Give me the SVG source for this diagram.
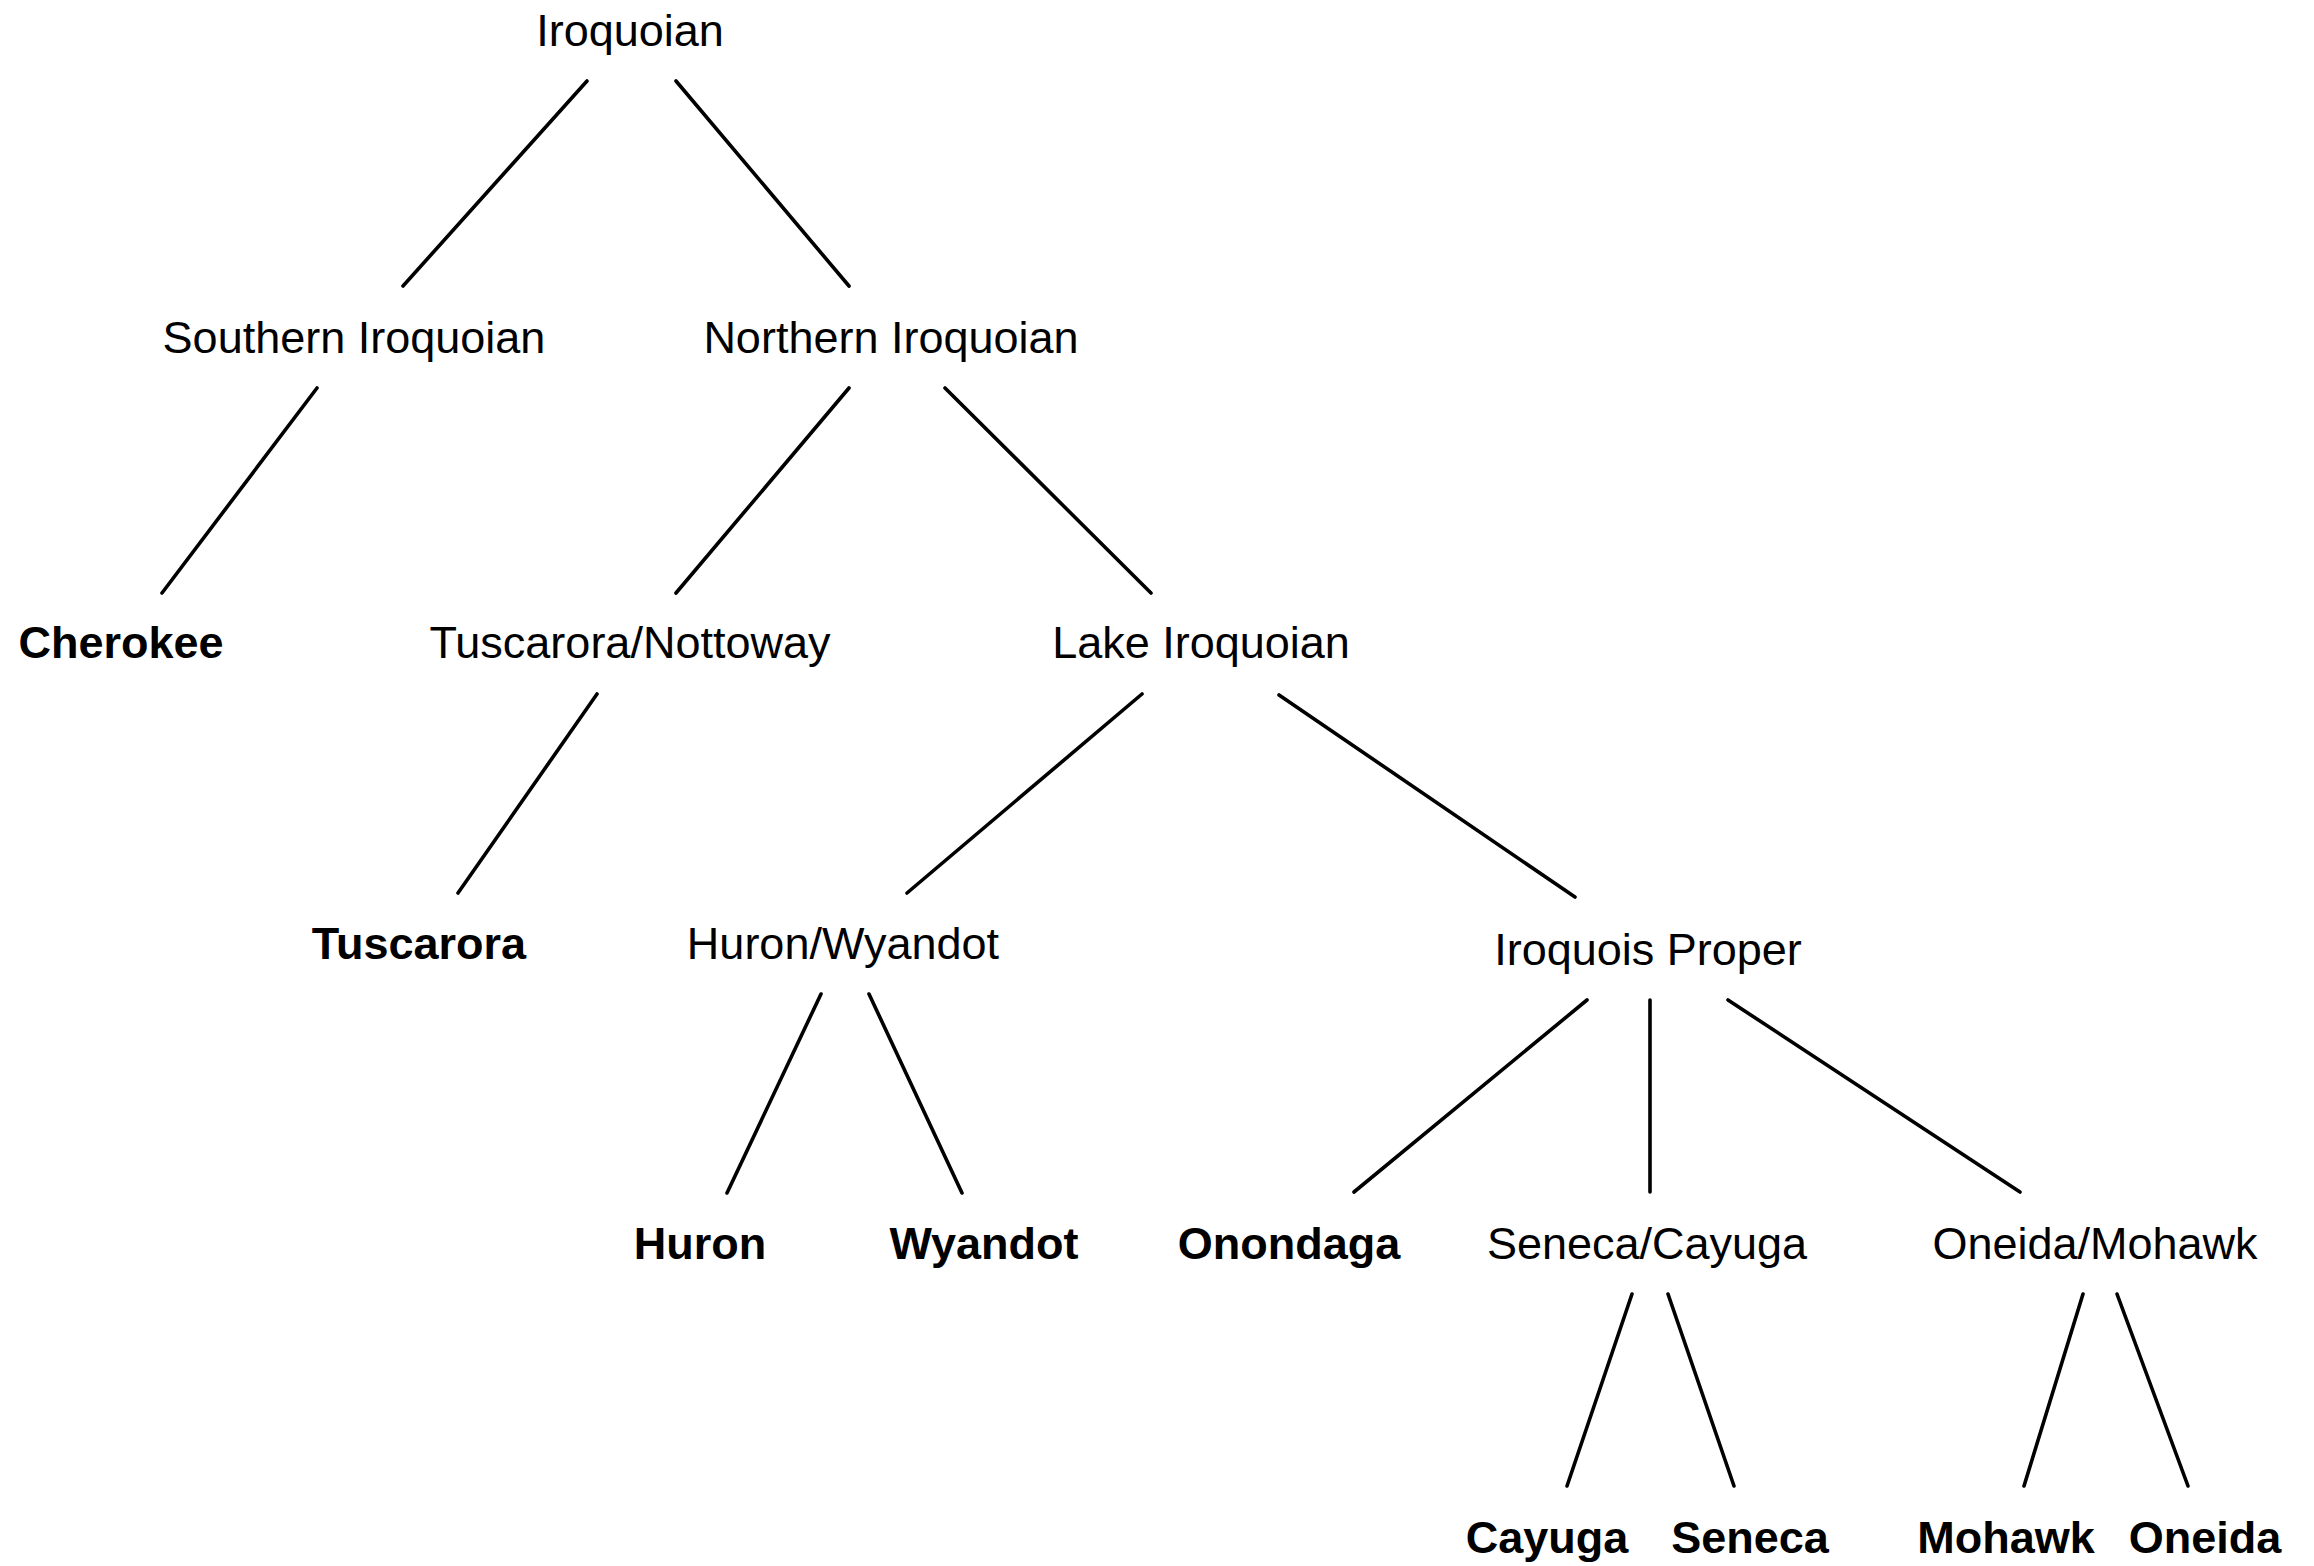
<svg xmlns="http://www.w3.org/2000/svg" width="2314" height="1566" viewBox="0 0 2314 1566">
<style>
text{font-family:"Liberation Sans",Arial,Helvetica,sans-serif;font-size:45px;fill:#000;text-anchor:middle}
.b{font-weight:bold}
#connectors line{stroke:#000;stroke-width:3.6;stroke-linecap:round}
</style>
<rect width="2314" height="1566" fill="#fff"/>
<g id="connectors">
<line x1="587" y1="81" x2="403" y2="286"/>
<line x1="676" y1="81" x2="849" y2="286"/>
<line x1="317" y1="388" x2="162" y2="593"/>
<line x1="849" y1="388" x2="676" y2="593"/>
<line x1="945" y1="388" x2="1151" y2="593"/>
<line x1="597" y1="694" x2="458" y2="893"/>
<line x1="1142" y1="694" x2="907" y2="893"/>
<line x1="1279" y1="695" x2="1575" y2="897"/>
<line x1="821" y1="994" x2="727" y2="1193"/>
<line x1="869" y1="994" x2="962" y2="1193"/>
<line x1="1587" y1="1000" x2="1354" y2="1192"/>
<line x1="1650" y1="1000" x2="1650" y2="1192"/>
<line x1="1728" y1="1000" x2="2020" y2="1192"/>
<line x1="1632" y1="1294" x2="1567" y2="1486"/>
<line x1="1668" y1="1294" x2="1734" y2="1486"/>
<line x1="2083" y1="1294" x2="2024" y2="1486"/>
<line x1="2117" y1="1294" x2="2188" y2="1486"/>
</g>
<g id="n-iroquoian"><text x="630" y="46">Iroquoian</text></g>
<g id="n-southern"><text x="354" y="353">Southern Iroquoian</text></g>
<g id="n-northern"><text x="891" y="353">Northern Iroquoian</text></g>
<g id="n-cherokee"><text class="b" x="121" y="658">Cherokee</text></g>
<g id="n-tuscnott"><text x="630" y="658">Tuscarora/Nottoway</text></g>
<g id="n-lake"><text x="1201" y="658">Lake Iroquoian</text></g>
<g id="n-tuscarora"><text class="b" x="419" y="959">Tuscarora</text></g>
<g id="n-huronwyandot"><text x="843" y="959">Huron/Wyandot</text></g>
<g id="n-iroqproper"><text x="1648" y="965">Iroquois Proper</text></g>
<g id="n-huron"><text class="b" x="700" y="1259">Huron</text></g>
<g id="n-wyandot"><text class="b" x="984" y="1259">Wyandot</text></g>
<g id="n-onondaga"><text class="b" x="1289" y="1259">Onondaga</text></g>
<g id="n-senecacayuga"><text x="1647" y="1259">Seneca/Cayuga</text></g>
<g id="n-oneidamohawk"><text x="2095" y="1259">Oneida/Mohawk</text></g>
<g id="n-cayuga"><text class="b" x="1547" y="1553">Cayuga</text></g>
<g id="n-seneca"><text class="b" x="1750" y="1553">Seneca</text></g>
<g id="n-mohawk"><text class="b" x="2006" y="1553">Mohawk</text></g>
<g id="n-oneida"><text class="b" x="2205" y="1553">Oneida</text></g>
</svg>
